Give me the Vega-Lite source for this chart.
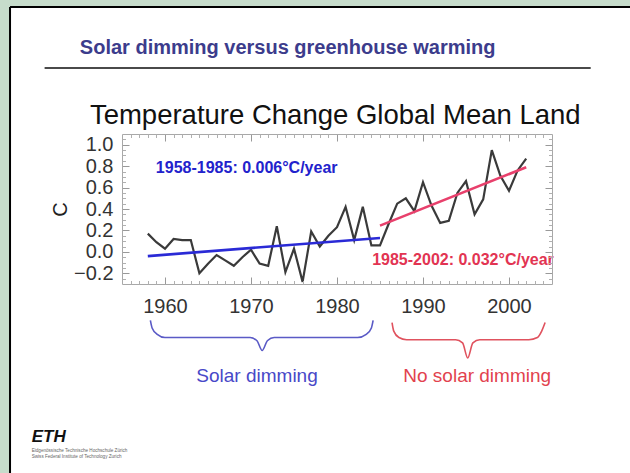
{
  "$schema": "https://vega.github.io/schema/vega-lite/v6.json",
  "width": 430,
  "height": 150,
  "autosize": {"type": "none"},
  "padding": {"left": 122, "top": 134, "right": 78, "bottom": 189},
  "background": "white",
  "config": {
    "view": {"stroke": null},
    "axis": {"zindex": 1, "grid": false, "labelFont": "Liberation Sans", "titleFont": "Liberation Sans"}
  },
  "resolve": {
    "axis": {"x": "independent", "y": "independent"},
    "scale": {"color": "independent"}
  },
  "datasets": {
    "margins": [
      {"x0": 1925, "x1": 1941.98, "y0": -3, "y1": 3},
      {"x0": 1925, "x1": 2030, "y0": 2.285, "y1": 3}
    ],
    "borders": [
      {"x0": 1941.98, "x1": 1941.98, "y0": -3, "y1": 2.285},
      {"x0": 1941.98, "x1": 2030, "y0": 2.285, "y1": 2.285}
    ],
    "rule": [{"x0": 1946.0, "x1": 2009.5, "temp": 1.716}],
    "heading": [{"year": 1950.1, "temp": 1.9, "label": "Solar dimming versus greenhouse warming"}],
    "chartTitle": [{"year": 1979.8, "temp": 1.268, "label": "Temperature Change Global Mean Land"}],
    "temps": [
      {"year": 1958, "temp": 0.17}, {"year": 1959, "temp": 0.09}, {"year": 1960, "temp": 0.03},
      {"year": 1961, "temp": 0.12}, {"year": 1962, "temp": 0.11}, {"year": 1963, "temp": 0.11},
      {"year": 1964, "temp": -0.2}, {"year": 1965, "temp": -0.11}, {"year": 1966, "temp": -0.03},
      {"year": 1967, "temp": -0.08}, {"year": 1968, "temp": -0.13}, {"year": 1969, "temp": -0.05},
      {"year": 1970, "temp": 0.02}, {"year": 1971, "temp": -0.11}, {"year": 1972, "temp": -0.13},
      {"year": 1973, "temp": 0.24}, {"year": 1974, "temp": -0.19}, {"year": 1975, "temp": 0.03},
      {"year": 1976, "temp": -0.28}, {"year": 1977, "temp": 0.19}, {"year": 1978, "temp": 0.05},
      {"year": 1979, "temp": 0.15}, {"year": 1980, "temp": 0.23}, {"year": 1981, "temp": 0.42},
      {"year": 1982, "temp": 0.11}, {"year": 1983, "temp": 0.42}, {"year": 1984, "temp": 0.06},
      {"year": 1985, "temp": 0.06}, {"year": 1986, "temp": 0.26}, {"year": 1987, "temp": 0.45},
      {"year": 1988, "temp": 0.5}, {"year": 1989, "temp": 0.38}, {"year": 1990, "temp": 0.65},
      {"year": 1991, "temp": 0.43}, {"year": 1992, "temp": 0.27}, {"year": 1993, "temp": 0.29},
      {"year": 1994, "temp": 0.55}, {"year": 1995, "temp": 0.66}, {"year": 1996, "temp": 0.35},
      {"year": 1997, "temp": 0.49}, {"year": 1998, "temp": 0.95}, {"year": 1999, "temp": 0.71},
      {"year": 2000, "temp": 0.57}, {"year": 2001, "temp": 0.76}, {"year": 2002, "temp": 0.87}
    ],
    "trends": [
      {"period": "1958-1985", "year": 1958, "temp": -0.04},
      {"period": "1958-1985", "year": 1985, "temp": 0.13},
      {"period": "1985-2002", "year": 1985, "temp": 0.245},
      {"period": "1985-2002", "year": 2002, "temp": 0.79}
    ],
    "notes": [
      {"period": "1958-1985", "year": 1969.5, "temp": 0.78, "label": "1958-1985: 0.006°C/year"},
      {"period": "1985-2002", "year": 1994.65, "temp": -0.08, "label": "1985-2002: 0.032°C/year"}
    ],
    "braces": [
      {"period": "1958-1985", "year": 1958.3, "temp": -0.64},
      {"period": "1958-1985", "year": 1958.5, "temp": -0.71},
      {"period": "1958-1985", "year": 1959.1, "temp": -0.77},
      {"period": "1958-1985", "year": 1960.0, "temp": -0.8},
      {"period": "1958-1985", "year": 1969.9, "temp": -0.8},
      {"period": "1958-1985", "year": 1970.7, "temp": -0.83},
      {"period": "1958-1985", "year": 1971.3, "temp": -0.92},
      {"period": "1958-1985", "year": 1971.9, "temp": -0.83},
      {"period": "1958-1985", "year": 1972.7, "temp": -0.8},
      {"period": "1958-1985", "year": 1982.4, "temp": -0.8},
      {"period": "1958-1985", "year": 1983.4, "temp": -0.77},
      {"period": "1958-1985", "year": 1984.0, "temp": -0.71},
      {"period": "1958-1985", "year": 1984.2, "temp": -0.64},
      {"period": "1985-2002", "year": 1986.4, "temp": -0.66},
      {"period": "1985-2002", "year": 1986.6, "temp": -0.74},
      {"period": "1985-2002", "year": 1987.2, "temp": -0.8},
      {"period": "1985-2002", "year": 1988.1, "temp": -0.82},
      {"period": "1985-2002", "year": 1993.8, "temp": -0.82},
      {"period": "1985-2002", "year": 1994.6, "temp": -0.85},
      {"period": "1985-2002", "year": 1995.2, "temp": -0.99},
      {"period": "1985-2002", "year": 1995.8, "temp": -0.85},
      {"period": "1985-2002", "year": 1996.6, "temp": -0.82},
      {"period": "1985-2002", "year": 2002.3, "temp": -0.82},
      {"period": "1985-2002", "year": 2003.3, "temp": -0.8},
      {"period": "1985-2002", "year": 2003.8, "temp": -0.74},
      {"period": "1985-2002", "year": 2004.2, "temp": -0.66}
    ],
    "braceLabels": [
      {"period": "1958-1985", "year": 1970.7, "temp": -1.16, "label": "Solar dimming"},
      {"period": "1985-2002", "year": 1996.3, "temp": -1.16, "label": "No solar dimming"}
    ],
    "eth": [
      {"year": 1944.5, "temp": -1.728, "label": "ETH", "kind": "logo"},
      {"year": 1944.5, "temp": -1.859, "label": "Eidgenössische Technische Hochschule Zürich", "kind": "small"},
      {"year": 1944.5, "temp": -1.915, "label": "Swiss Federal Institute of Technology Zurich", "kind": "small"}
    ]
  },
  "layer": [
    {
      "data": {"name": "margins"},
      "mark": {"type": "rect", "fill": "#c6dccb", "clip": false},
      "encoding": {
        "x": {"field": "x0", "type": "quantitative", "scale": {"domain": [1955, 2005], "nice": false, "zero": false}, "axis": null},
        "x2": {"field": "x1"},
        "y": {"field": "y0", "type": "quantitative", "scale": {"domain": [-0.3, 1.1], "nice": false, "zero": false}, "axis": null},
        "y2": {"field": "y1"}
      }
    },
    {
      "data": {"name": "borders"},
      "mark": {"type": "rule", "stroke": "black", "strokeWidth": 2, "clip": false},
      "encoding": {
        "x": {"field": "x0", "type": "quantitative", "axis": null},
        "x2": {"field": "x1"},
        "y": {"field": "y0", "type": "quantitative", "axis": null},
        "y2": {"field": "y1"}
      }
    },
    {
      "data": {"name": "rule"},
      "mark": {"type": "rule", "stroke": "#4a4a4a", "strokeWidth": 2, "clip": false},
      "encoding": {
        "x": {"field": "x0", "type": "quantitative", "axis": null},
        "x2": {"field": "x1"},
        "y": {"field": "temp", "type": "quantitative", "axis": null}
      }
    },
    {
      "data": {"name": "heading"},
      "mark": {"type": "text", "align": "left", "baseline": "middle", "font": "Liberation Sans", "fontWeight": "bold", "fontSize": 20, "fill": "#3c3c8c", "clip": false},
      "encoding": {
        "x": {"field": "year", "type": "quantitative", "axis": null},
        "y": {"field": "temp", "type": "quantitative", "axis": null},
        "text": {"field": "label"}
      }
    },
    {
      "data": {"name": "chartTitle"},
      "mark": {"type": "text", "align": "center", "baseline": "middle", "font": "Liberation Sans", "fontSize": 27.5, "fill": "#111111", "clip": false},
      "encoding": {
        "x": {"field": "year", "type": "quantitative", "axis": null},
        "y": {"field": "temp", "type": "quantitative", "axis": null},
        "text": {"field": "label"}
      }
    },
    {
      "data": {"name": "temps"},
      "mark": {"type": "line", "stroke": "#3a3a3a", "strokeWidth": 2.2, "clip": false},
      "encoding": {
        "x": {"field": "year", "type": "quantitative", "axis": {"orient": "bottom", "zindex": 1, "values": [1960, 1970, 1980, 1990, 2000], "format": "d", "ticks": false, "domain": false, "labelFontSize": 20, "labelColor": "#333333", "labelPadding": 12, "title": null}},
        "y": {"field": "temp", "type": "quantitative", "axis": {"orient": "left", "zindex": 1, "values": [-0.2, 0, 0.2, 0.4, 0.6, 0.8, 1.0], "format": ".1f", "ticks": false, "domain": false, "labelFontSize": 20, "labelColor": "#333333", "labelPadding": 9, "title": "C", "titleFontSize": 20, "titleFontWeight": "normal", "titleColor": "#222222", "titlePadding": 3}}
      }
    },
    {
      "data": {"name": "trends"},
      "mark": {"type": "line", "strokeWidth": 2.6, "clip": false},
      "encoding": {
        "x": {"field": "year", "type": "quantitative", "axis": {"orient": "bottom", "zindex": 1, "values": [1960, 1970, 1980, 1990, 2000], "tickSize": -7, "tickColor": "#999999", "labels": false, "domain": true, "domainColor": "#a8a8a8", "title": null}},
        "y": {"field": "temp", "type": "quantitative", "axis": {"orient": "left", "zindex": 1, "values": [-0.2, 0, 0.2, 0.4, 0.6, 0.8, 1.0], "tickSize": -7, "tickColor": "#999999", "labels": false, "domain": true, "domainColor": "#a8a8a8", "title": null}},
        "color": {"field": "period", "type": "nominal", "scale": {"domain": ["1958-1985", "1985-2002"], "range": ["#2a2ad6", "#e8406c"]}, "legend": null}
      }
    },
    {
      "data": {"name": "notes"},
      "mark": {"type": "text", "align": "center", "baseline": "middle", "font": "Liberation Sans", "fontWeight": "bold", "fontSize": 16, "clip": false},
      "encoding": {
        "x": {"field": "year", "type": "quantitative", "axis": {"orient": "bottom", "zindex": 1, "values": [1956,1957,1958,1959,1961,1962,1963,1964,1965,1966,1967,1968,1969,1971,1972,1973,1974,1975,1976,1977,1978,1979,1981,1982,1983,1984,1985,1986,1987,1988,1989,1991,1992,1993,1994,1995,1996,1997,1998,1999,2001,2002,2003,2004], "tickSize": -3.5, "tickColor": "#b0b0b0", "labels": false, "domain": false, "title": null}},
        "y": {"field": "temp", "type": "quantitative", "axis": {"orient": "left", "zindex": 1, "values": [-0.25, -0.15, -0.1, -0.05, 0.05, 0.1, 0.15, 0.25, 0.3, 0.35, 0.45, 0.5, 0.55, 0.65, 0.7, 0.75, 0.85, 0.9, 0.95, 1.05], "tickSize": -3.5, "tickColor": "#b0b0b0", "labels": false, "domain": false, "title": null}},
        "text": {"field": "label"},
        "color": {"field": "period", "type": "nominal", "scale": {"domain": ["1958-1985", "1985-2002"], "range": ["#2222cc", "#e23452"]}, "legend": null}
      }
    },
    {
      "data": {"name": "braces"},
      "mark": {"type": "line", "interpolate": "monotone", "strokeWidth": 1.6, "clip": false},
      "encoding": {
        "x": {"field": "year", "type": "quantitative", "axis": {"orient": "top", "zindex": 1, "values": [1960, 1970, 1980, 1990, 2000], "tickSize": -7, "tickColor": "#999999", "labels": false, "domain": true, "domainColor": "#a8a8a8", "title": null}},
        "y": {"field": "temp", "type": "quantitative", "axis": {"orient": "right", "zindex": 1, "values": [-0.2, 0, 0.2, 0.4, 0.6, 0.8, 1.0], "tickSize": -7, "tickColor": "#999999", "labels": false, "domain": true, "domainColor": "#a8a8a8", "title": null}},
        "color": {"field": "period", "type": "nominal", "scale": {"domain": ["1958-1985", "1985-2002"], "range": ["#5a5ac6", "#e0525e"]}, "legend": null}
      }
    },
    {
      "data": {"name": "braceLabels"},
      "mark": {"type": "text", "align": "center", "baseline": "middle", "font": "Liberation Sans", "fontSize": 19, "clip": false},
      "encoding": {
        "x": {"field": "year", "type": "quantitative", "axis": {"orient": "top", "zindex": 1, "values": [1956,1957,1958,1959,1961,1962,1963,1964,1965,1966,1967,1968,1969,1971,1972,1973,1974,1975,1976,1977,1978,1979,1981,1982,1983,1984,1985,1986,1987,1988,1989,1991,1992,1993,1994,1995,1996,1997,1998,1999,2001,2002,2003,2004], "tickSize": -3.5, "tickColor": "#b0b0b0", "labels": false, "domain": false, "title": null}},
        "y": {"field": "temp", "type": "quantitative", "axis": {"orient": "right", "zindex": 1, "values": [-0.25, -0.15, -0.1, -0.05, 0.05, 0.1, 0.15, 0.25, 0.3, 0.35, 0.45, 0.5, 0.55, 0.65, 0.7, 0.75, 0.85, 0.9, 0.95, 1.05], "tickSize": -3.5, "tickColor": "#b0b0b0", "labels": false, "domain": false, "title": null}},
        "text": {"field": "label"},
        "color": {"field": "period", "type": "nominal", "scale": {"domain": ["1958-1985", "1985-2002"], "range": ["#4848c8", "#e2424e"]}, "legend": null}
      }
    },
    {
      "data": {"name": "eth"},
      "transform": [{"filter": "datum.kind === 'logo'"}],
      "mark": {"type": "text", "align": "left", "baseline": "middle", "font": "Liberation Sans", "fontWeight": "bold", "fontStyle": "italic", "fontSize": 17, "fill": "#111111", "clip": false},
      "encoding": {
        "x": {"field": "year", "type": "quantitative", "axis": null},
        "y": {"field": "temp", "type": "quantitative", "axis": null},
        "text": {"field": "label"}
      }
    },
    {
      "data": {"name": "eth"},
      "transform": [{"filter": "datum.kind === 'small'"}],
      "mark": {"type": "text", "align": "left", "baseline": "middle", "font": "Liberation Sans", "fontSize": 4.6, "fill": "#666666", "clip": false},
      "encoding": {
        "x": {"field": "year", "type": "quantitative", "axis": null},
        "y": {"field": "temp", "type": "quantitative", "axis": null},
        "text": {"field": "label"}
      }
    }
  ]
}
